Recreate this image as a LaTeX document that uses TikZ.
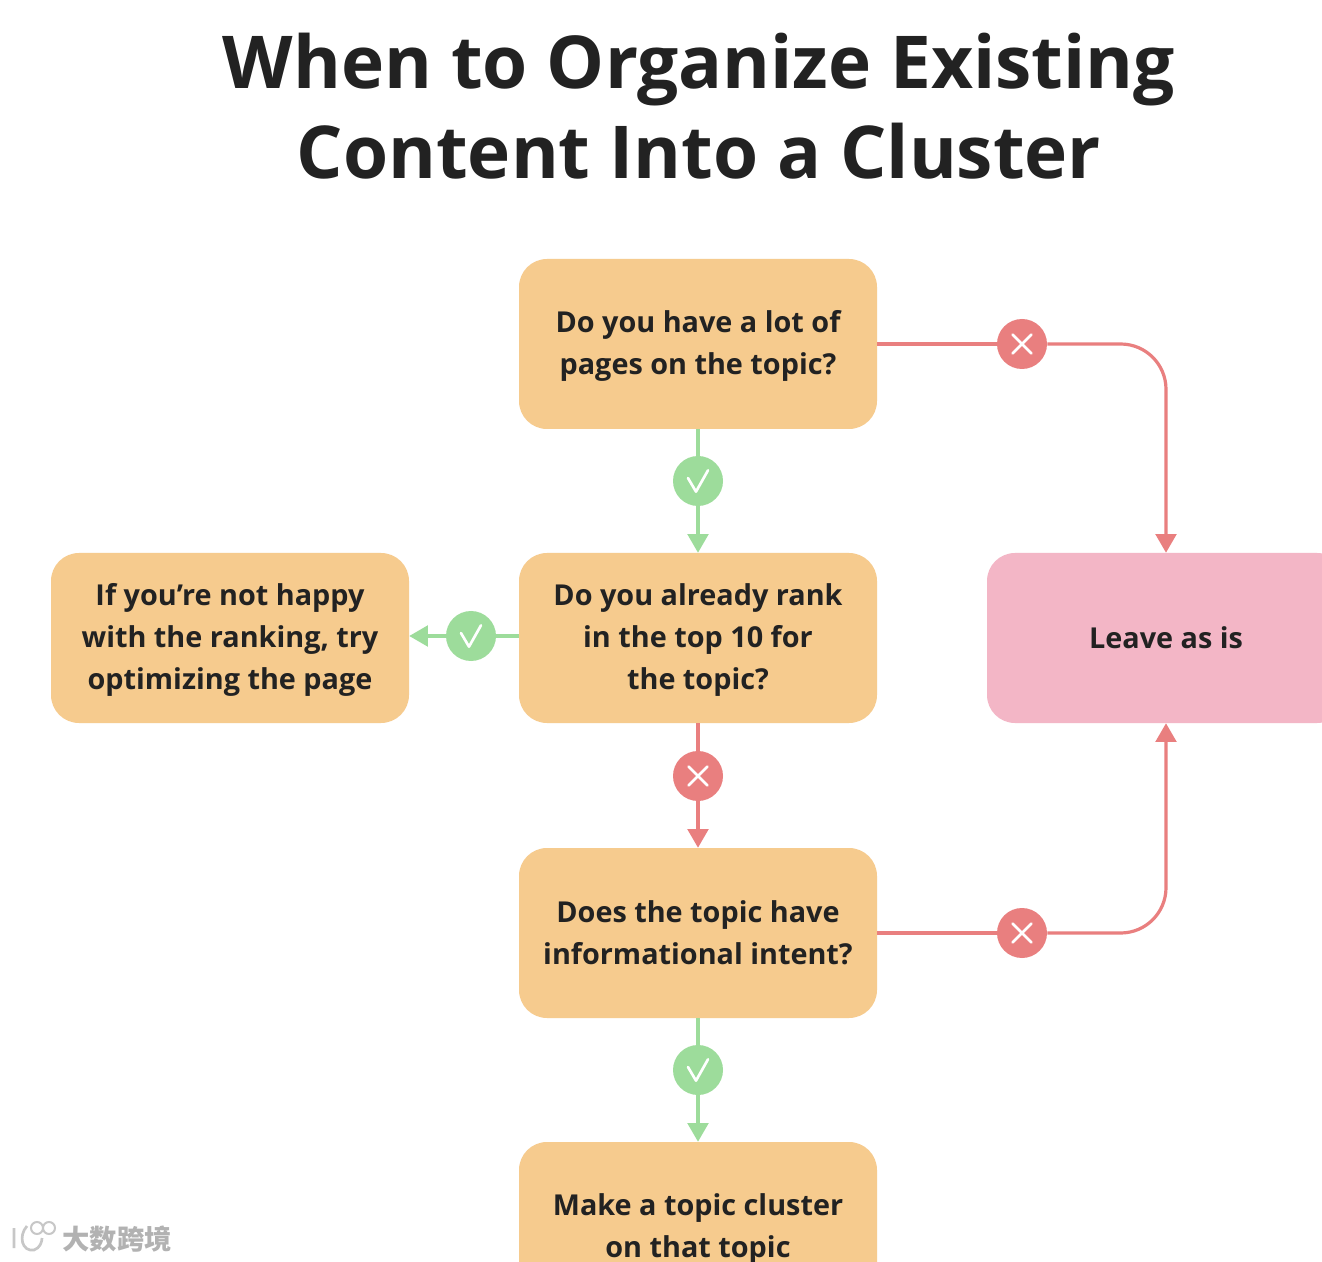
\documentclass[tikz,border=0pt]{standalone}
\usepackage{fontspec}
\setmainfont{Open Sans}
\newfontfamily\cjkwm{Noto Sans CJK SC}
\usetikzlibrary{arrows.meta}
\definecolor{boxorange}{HTML}{F6CB8E}
\definecolor{boxpink}{HTML}{F3B6C6}
\definecolor{okgreen}{HTML}{9DDC9B}
\definecolor{nored}{HTML}{E97F7F}
\definecolor{inkdark}{HTML}{222222}
\newcommand{\lowerstrut}{\rule{0pt}{19.5pt}}
\tikzset{
  basebox/.style={rounded corners=21pt,minimum width=268.5pt,minimum height=127.5pt,inner sep=0pt,align=center,
    text=inkdark,font=\fontsize{21.6}{31.3}\selectfont\bfseries},
  qbox/.style={basebox,fill=boxorange},
  pbox/.style={basebox,fill=boxpink},
  yesmark/.style={circle,fill=okgreen,minimum size=37.5pt,inner sep=0pt,
    path picture={\draw[white,line width=2pt,line cap=round,line join=round]
      ([shift={(-7.5pt,2.2pt)}]path picture bounding box.center)--
      ([shift={(-1.5pt,-8pt)}]path picture bounding box.center)--
      ([shift={(7.5pt,8pt)}]path picture bounding box.center);}},
  nomark/.style={circle,fill=nored,minimum size=37.5pt,inner sep=0pt,
    path picture={\draw[white,line width=2pt,line cap=round]
      ([shift={(-7pt,-7pt)}]path picture bounding box.center)--([shift={(7pt,7pt)}]path picture bounding box.center)
      ([shift={(-7pt,7pt)}]path picture bounding box.center)--([shift={(7pt,-7pt)}]path picture bounding box.center);}},
  yesline/.style={draw=okgreen,line width=2.4pt},
  noline/.style={draw=nored,line width=2.4pt},
  tip/.style={-{Triangle[width=15.5pt,length=14pt]}},
  titletext/.style={text=inkdark,font=\fontsize{54.7}{67.5}\selectfont\bfseries,align=center,inner sep=0pt},
}
\begin{document}
\begin{tikzpicture}[x=0.75pt,y=-0.75pt]
\useasboundingbox (0,0) rectangle (1322,1262);
\clip (0,0) rectangle (1322,1262);
\fill[white] (0,0) rectangle (1322,1262);
\node[titletext] (title) at (699,106) {When to Organize Existing\\Content Into a Cluster};
\node[qbox] (q1) at (698,344) {\lowerstrut Do you have a lot of\\pages on the topic?};
\node[qbox] (q2) at (698,638) {\lowerstrut Do you already rank\\in the top 10 for\\the topic?};
\node[qbox] (q3) at (698,933) {Does the topic have\\informational intent?};
\node[qbox] (q4) at (698,1227) {\lowerstrut Make a topic cluster\\on that topic};
\node[qbox] (opt) at (230,638) {\lowerstrut If you’re not happy\\with the ranking, try\\optimizing the page};
\node[pbox] (leave) at (1166,638) {Leave as is};
\node[yesmark] (y1) at (698,481) {};
\node[yesmark] (y2) at (471,636) {};
\node[yesmark] (y3) at (698,1070) {};
\node[nomark] (n1) at (1022,344) {};
\node[nomark] (n2) at (698,776) {};
\node[nomark] (n3) at (1022,933) {};
\draw[yesline] (q1) -- (y1);
\draw[yesline,tip] (y1) -- (q2);
\draw[yesline] (q2.west |- y2) -- (y2);
\draw[yesline,tip] (y2) -- (opt.east |- y2);
\draw[yesline] (q3) -- (y3);
\draw[yesline,tip] (y3) -- (q4);
\draw[noline] (q2) -- (n2);
\draw[noline,tip] (n2) -- (q3);
\draw[noline] (q1) -- (n1);
\draw[noline,tip,rounded corners=34pt] (n1) -| (leave.north);
\draw[noline] (q3) -- (n3);
\draw[noline,tip,rounded corners=34pt] (n3) -| (leave.south);
\node[text=black!30,font=\cjkwm\bfseries\fontsize{20.5}{20.5}\selectfont,inner sep=0pt] (wm) at (117,1239) {大数跨境};
\draw[black!22,line width=2pt] (14,1228) -- (14,1248) (27,1226) .. controls (18,1236) and (22,1252) .. (34,1250) .. controls (40,1248) and (42,1242) .. (42,1238);
\draw[black!22,line width=1.5pt] (37,1228) circle (6) (49,1228) circle (6);
\end{tikzpicture}
\end{document}
